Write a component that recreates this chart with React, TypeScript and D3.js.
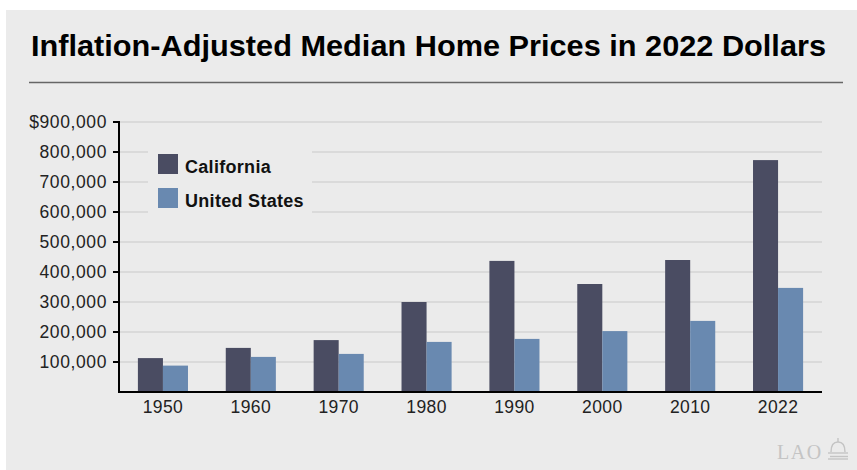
import React from "react";
import * as d3 from "d3";

const years = ["1950", "1960", "1970", "1980", "1990", "2000", "2010", "2022"];
const california = [113000, 147000, 173000, 300000, 437000, 360000, 440000, 773000];
const unitedStates = [88000, 117000, 127000, 167000, 177000, 203000, 237000, 347000];
const yTicks = [100000, 200000, 300000, 400000, 500000, 600000, 700000, 800000, 900000];

const W = 857;
const H = 470;
const MARGIN = { top: 122, right: 35, bottom: 78, left: 119 };
const CA_COLOR = "#4a4c62";
const US_COLOR = "#6989b0";
const FONT = "'Liberation Sans', Arial, Helvetica, sans-serif";

export default function App() {
  const boundsWidth = W - MARGIN.left - MARGIN.right;
  const boundsHeight = H - MARGIN.top - MARGIN.bottom;

  const xScale = d3
    .scaleBand<string>()
    .domain(years)
    .range([MARGIN.left, MARGIN.left + boundsWidth])
    .paddingInner(0.43)
    .paddingOuter(0.215);

  const yScale = d3
    .scaleLinear()
    .domain([0, 900000])
    .range([MARGIN.top + boundsHeight, MARGIN.top]);

  const sub = d3
    .scaleBand<string>()
    .domain(["ca", "us"])
    .range([0, xScale.bandwidth()]);

  const fmt = d3.format(",");
  const baseY = yScale(0);

  return (
    <svg
      width={W}
      height={H}
      style={{ position: "absolute", left: 0, top: 0, background: "#fff" }}
    >
      <rect x={6} y={10} width={W - 6} height={H - 10} fill="#ebebeb" />
      <text
        x={31}
        y={56}
        fontFamily={FONT}
        fontWeight="bold"
        fontSize={30}
        fill="#000"
        textLength={795}
        lengthAdjust="spacingAndGlyphs"
      >
        Inflation-Adjusted Median Home Prices in 2022 Dollars
      </text>
      <line x1={29} x2={843} y1={82.5} y2={82.5} stroke="#666" strokeWidth={1.5} />

      {/* gridlines */}
      {yTicks.map((t) => (
        <line
          key={"g" + t}
          x1={MARGIN.left}
          x2={MARGIN.left + boundsWidth}
          y1={yScale(t)}
          y2={yScale(t)}
          stroke="#c9c9c9"
          strokeWidth={1.2}
        />
      ))}

      {/* legend box hides gridlines behind it */}
      <rect x={148} y={137} width={164} height={86} fill="#ebebeb" />
      <rect x={158} y={154} width={20} height={20} fill={CA_COLOR} />
      <rect x={158} y={188} width={20} height={20} fill={US_COLOR} />
      <text x={185} y={173} fontFamily={FONT} fontWeight="bold" fontSize={18} letterSpacing={0.3} fill="#111">
        California
      </text>
      <text x={185} y={207} fontFamily={FONT} fontWeight="bold" fontSize={18} letterSpacing={0.3} fill="#111">
        United States
      </text>

      {/* bars */}
      {years.map((yr, i) => (
        <g key={yr} transform={`translate(${xScale(yr)},0)`}>
          <rect
            x={sub("ca")}
            y={yScale(california[i])}
            width={sub.bandwidth()}
            height={baseY - yScale(california[i])}
            fill={CA_COLOR}
          />
          <rect
            x={sub("us")}
            y={yScale(unitedStates[i])}
            width={sub.bandwidth()}
            height={baseY - yScale(unitedStates[i])}
            fill={US_COLOR}
          />
        </g>
      ))}

      {/* y axis */}
      <line x1={MARGIN.left} x2={MARGIN.left} y1={yScale(900000) - 1} y2={baseY} stroke="#000" strokeWidth={2} />
      {yTicks.map((t) => (
        <g key={"t" + t}>
          <line x1={MARGIN.left - 6} x2={MARGIN.left} y1={yScale(t)} y2={yScale(t)} stroke="#000" strokeWidth={2} />
          <text
            x={107}
            y={yScale(t) + 6}
            textAnchor="end"
            fontFamily={FONT}
            fontSize={17.5}
            letterSpacing={0.6}
            fill="#222"
          >
            {(t === 900000 ? "$" : "") + fmt(t)}
          </text>
        </g>
      ))}

      {/* x axis */}
      <line x1={MARGIN.left - 1} x2={MARGIN.left + boundsWidth} y1={baseY} y2={baseY} stroke="#000" strokeWidth={2} />
      {years.map((yr) => (
        <text
          key={"x" + yr}
          x={(xScale(yr) || 0) + xScale.bandwidth() / 2}
          y={413}
          textAnchor="middle"
          fontFamily={FONT}
          fontSize={17.5}
          letterSpacing={0.4}
          fill="#222"
        >
          {yr}
        </text>
      ))}

      {/* LAO mark */}
      <text x={777} y={459} fontFamily="'Liberation Serif', 'DejaVu Serif', serif" fontSize={20} letterSpacing={1.5} fill="#c4c4c4">
        LAO
      </text>
      <g fill="none" stroke="#c4c4c4" strokeWidth={1.4}>
        <path d="M831,452 Q831,442 838,442 Q845,442 845,452" />
        <line x1={838} x2={838} y1={438} y2={442} />
        <line x1={828} x2={848} y1={453} y2={453} />
        <line x1={830} x2={848} y1={456.5} y2={456.5} />
        <line x1={828} x2={848} y1={459} y2={459} />
      </g>
    </svg>
  );
}
